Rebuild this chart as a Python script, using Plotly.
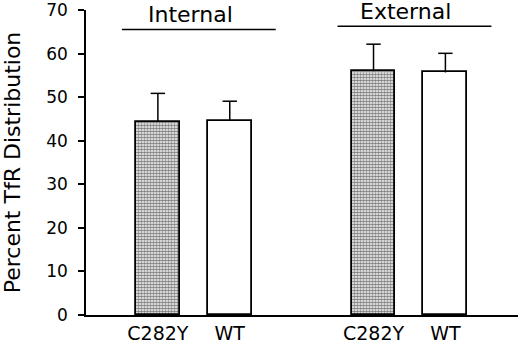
import plotly.graph_objects as go

# ---- data ----
categories = ["C282Y", "WT", "C282Y", "WT"]
groups = ["Internal", "External"]
positions = [0, 1, 3, 4]
values = [44.3, 44.6, 56.0, 55.7]
errors = [6.6, 4.5, 6.2, 4.4]
is_mutant = [True, False, True, False]
group_members = [[0, 1], [2, 3]]
group_line_y = [65.6, 66.3]
y_ticks = [0, 10, 20, 30, 40, 50, 60, 70]

FONT = "DejaVu Sans"
BAR_W = 0.61
CAP_HALF = 0.1

fig = go.Figure()

# error bars (upper only, cap at top) drawn as line segments from the data
ex, ey = [], []
for p, v, e in zip(positions, values, errors):
    ex += [p, p, None, p - CAP_HALF, p + CAP_HALF, None]
    ey += [v, v + e, None, v + e, v + e, None]
fig.add_trace(go.Scatter(x=ex, y=ey, mode="lines",
                         line=dict(color="black", width=1.5),
                         showlegend=False, hoverinfo="skip"))

for i in range(len(values)):
    mutant = is_mutant[i]
    fig.add_trace(go.Bar(
        x=[positions[i]], y=[values[i]], width=BAR_W,
        marker=dict(
            color="white",
            line=dict(color="black", width=1.8),
            pattern=dict(shape="." if mutant else "", fgcolor="black",
                         bgcolor="white", size=3, solidity=0.62),
        ),
        showlegend=False,
    ))

shapes = []
annotations = []
for g, members in enumerate(group_members):
    xs = [positions[m] for m in members]
    shapes.append(dict(type="line", xref="x", yref="y",
                       x0=min(xs) - 0.5, x1=max(xs) + 0.64,
                       y0=group_line_y[g], y1=group_line_y[g],
                       line=dict(color="black", width=1.5)))
    annotations.append(dict(x=sum(xs) / len(xs) - 0.05, y=group_line_y[g], xref="x", yref="y",
                            text=groups[g], showarrow=False, yanchor="bottom",
                            yshift=0, font=dict(family=FONT, size=22, color="black")))

fig.update_layout(
    width=520, height=350,
    margin=dict(l=86, r=2, t=10, b=35, autoexpand=False),
    plot_bgcolor="white", paper_bgcolor="white",
    bargap=0,
    shapes=shapes, annotations=annotations,
    font=dict(family=FONT, color="black"),
    xaxis=dict(range=[-1, 5.01], tickvals=positions, ticktext=categories,
               showgrid=False, zeroline=False, showline=True, linecolor="black",
               linewidth=1.5, ticks="", automargin=False,
               tickfont=dict(family=FONT, size=19, color="black")),
    yaxis=dict(range=[0, 70.05], tickvals=y_ticks, showgrid=False, zeroline=False,
               showline=True, linecolor="black", linewidth=1.5, ticks="outside",
               ticklen=6, tickwidth=1.5, tickcolor="black", ticklabelstandoff=7,
               automargin=False,
               tickfont=dict(family=FONT, size=17, color="black"),
               title=dict(text="Percent TfR Distribution", standoff=34,
                          font=dict(family=FONT, size=22, color="black"))),
)

fig.write_html("out.html", config={"displayModeBar": False},
               post_script="document.body.style.margin='0';document.body.style.overflow='hidden';")
